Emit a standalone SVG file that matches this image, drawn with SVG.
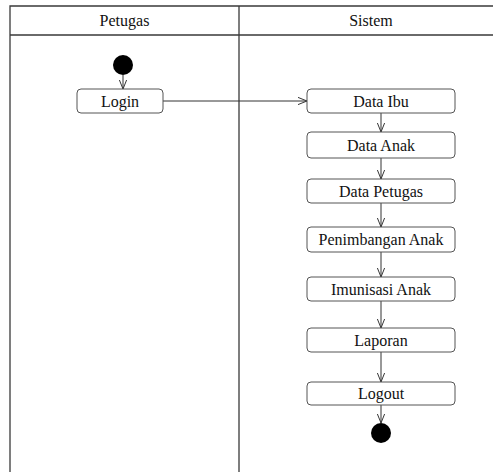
<svg xmlns="http://www.w3.org/2000/svg" width="493" height="472" viewBox="0 0 493 472">
<defs>
<style>
.lane{fill:none;stroke:#3a3a3a;stroke-width:1.3}
.act{fill:#fff;stroke:#555;stroke-width:1}
.t{font-family:"Liberation Serif","Times New Roman",serif;font-size:16px;fill:#111;text-anchor:middle}
.c{fill:none;stroke:#333;stroke-width:1}
.dot{fill:#000}
</style>
<marker id="ah" viewBox="0 0 10 10" refX="10" refY="5" markerWidth="9" markerHeight="9" markerUnits="userSpaceOnUse" orient="auto">
<path d="M0,1 L10,5 L0,9" fill="none" stroke="#333" stroke-width="1.1"/>
</marker>
</defs>
<rect width="493" height="472" fill="#fff"/>
<g id="swimlanes">
<path class="lane" d="M10,472 V6 H493 M10,35 H493 M239,6 V472"/>
<text class="t" x="124.5" y="25.5">Petugas</text>
<text class="t" x="371" y="25.5">Sistem</text>
</g>
<g id="connectors">
<line class="c" x1="123" y1="75" x2="123" y2="89" marker-end="url(#ah)"/>
<line class="c" x1="163" y1="101" x2="307" y2="101" marker-end="url(#ah)"/>
<line class="c" x1="381" y1="113" x2="381" y2="132" marker-end="url(#ah)"/>
<line class="c" x1="381" y1="158" x2="381" y2="179" marker-end="url(#ah)"/>
<line class="c" x1="381" y1="203" x2="381" y2="227" marker-end="url(#ah)"/>
<line class="c" x1="381" y1="252" x2="381" y2="277" marker-end="url(#ah)"/>
<line class="c" x1="381" y1="301" x2="381" y2="328" marker-end="url(#ah)"/>
<line class="c" x1="381" y1="352" x2="381" y2="382" marker-end="url(#ah)"/>
<line class="c" x1="381" y1="405" x2="381" y2="423" marker-end="url(#ah)"/>
</g>
<g id="start"><circle class="dot" cx="123" cy="65" r="10"/></g>
<g id="login"><rect class="act" x="77" y="89" width="86" height="24" rx="4"/><text class="t" x="120" y="106.5">Login</text></g>
<g id="data-ibu"><rect class="act" x="307" y="89" width="148" height="24" rx="4"/><text class="t" x="381" y="106.5">Data Ibu</text></g>
<g id="data-anak"><rect class="act" x="307" y="132" width="148" height="26" rx="4"/><text class="t" x="381" y="150.5">Data Anak</text></g>
<g id="data-petugas"><rect class="act" x="307" y="179" width="148" height="24" rx="4"/><text class="t" x="381" y="196.5">Data Petugas</text></g>
<g id="penimbangan-anak"><rect class="act" x="307" y="227" width="148" height="25" rx="4"/><text class="t" x="381" y="245">Penimbangan Anak</text></g>
<g id="imunisasi-anak"><rect class="act" x="307" y="277" width="148" height="24" rx="4"/><text class="t" x="381" y="294.5">Imunisasi Anak</text></g>
<g id="laporan"><rect class="act" x="307" y="328" width="148" height="24" rx="4"/><text class="t" x="381" y="345.5">Laporan</text></g>
<g id="logout"><rect class="act" x="307" y="382" width="148" height="23" rx="4"/><text class="t" x="381" y="399">Logout</text></g>
<g id="end"><circle class="dot" cx="381" cy="433" r="10"/></g>
</svg>
